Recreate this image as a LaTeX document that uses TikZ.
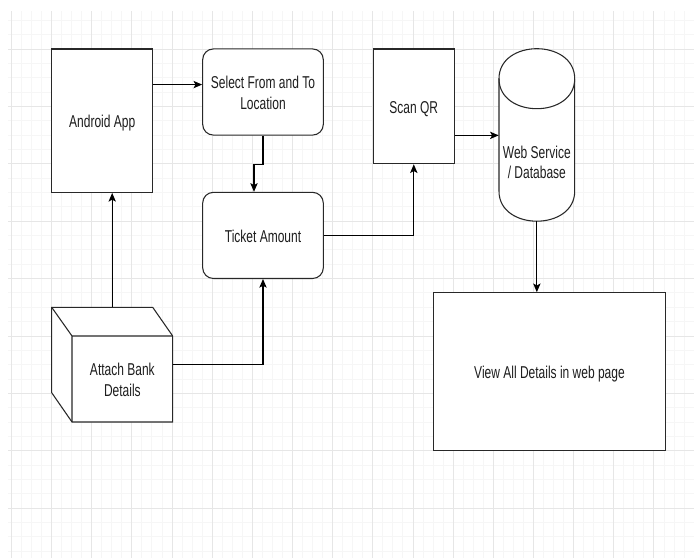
\documentclass[tikz,border=0pt]{standalone}
\usepackage{fontspec}
\setmainfont{Liberation Sans}
\usepackage{graphicx}
\usetikzlibrary{arrows.meta,calc}

\definecolor{gridminor}{RGB}{246,246,246}
\definecolor{gridmajor}{RGB}{230,230,230}
\definecolor{shapeline}{RGB}{40,40,40}
\definecolor{textcol}{RGB}{30,30,30}

\newcommand{\tallbox}[1]{\raisebox{0pt}[\dimexpr\height+4.5pt\relax][\depth]{\scalebox{1}[1.43]{\begin{tabular}{@{}c@{}}#1\end{tabular}}}}

\tikzset{
  boxtext/.style={inner sep=0pt, text=textcol, font=\fontsize{9}{10.8}\selectfont},
  box/.style={boxtext, draw=shapeline, fill=white, line width=0.8pt},
  roundbox/.style={box, rounded corners=8pt},
  plainshape/.style={draw=shapeline, fill=white, line width=0.8pt},
  conn/.style={draw=black, line width=0.8pt, -{Stealth[length=6.5pt,width=5.5pt,inset=1.5pt]}}
}

\begin{document}
\begin{tikzpicture}[x=0.75pt,y=0.75pt,yscale=-1,xscale=1]
        \useasboundingbox (0,0) rectangle (694,558);

        %Grid
        \foreach \i in {0,...,68} \draw[gridminor, line width=0.75pt] ({11.4+10.04*\i},11) -- ({11.4+10.04*\i},558);
        \foreach \j in {-2,...,35} \draw[gridminor, line width=0.75pt] (8,{49+14.35*\j}) -- (694,{49+14.35*\j});
        \foreach \i in {0,...,17} \draw[gridmajor, line width=0.75pt] ({11.4+40.16*\i},11) -- ({11.4+40.16*\i},558);
        \foreach \j in {0,...,8} \draw[gridmajor, line width=0.75pt] (8,{49+57.4*\j}) -- (694,{49+57.4*\j});

        %Shape: Rectangle
        \node[box, minimum width=75.4pt, minimum height=107.6pt] (android) at (102.2,120.7) {\tallbox{Android App}};
        %Shape: Rounded Rectangle
        \node[roundbox, minimum width=90.45pt, minimum height=64.6pt] (select) at (263,92) {\tallbox{Select From and To\\Location}};
        %Shape: Rounded Rectangle
        \node[roundbox, minimum width=90.45pt, minimum height=64.6pt] (ticket) at (263,235.4) {\tallbox{Ticket Amount}};
        %Shape: Rectangle
        \node[box, minimum width=60.75pt, minimum height=86.1pt] (scan) at (413.8,106.4) {\tallbox{Scan QR}};
        %Shape: Rectangle
        \node[box, minimum width=173.7pt, minimum height=118.5pt] (view) at (549.5,371.7) {\tallbox{View All Details in web page}};

        %Shape: Can
        \draw[plainshape] (499,78.7) .. controls (499,38.7) and (574.7,38.7) .. (574.7,78.7) -- (574.7,191.2) .. controls (574.7,231.2) and (499,231.2) .. (499,191.2) -- cycle ;
        \draw[plainshape, fill=none] (499,78.7) .. controls (499,118.7) and (574.7,118.7) .. (574.7,78.7) ;
        \node[inner sep=0pt, minimum width=56.8pt, minimum height=129.4pt] (db) at (536.85,134.95) {};
        \node[boxtext] (dbtext) at (536.85,161.5) {\tallbox{Web Service\\/ Database}};

        %Shape: Cube
        \draw[plainshape] (51.7,307.3) -- (152.7,307.3) -- (172.7,336) -- (172.7,422) -- (72,422) -- (51.7,392.7) -- cycle ;
        \draw[plainshape, fill=none] (51.7,307.3) -- (72,336) -- (172.7,336) (72,336) -- (72,422) ;
        \node[inner sep=0pt, minimum width=90.75pt, minimum height=86pt] (bank) at (112.2,364.65) {};
        \node[boxtext] (banktext) at (122.35,379) {\tallbox{Attach Bank\\Details}};

        %Connectors
        \coordinate (appout) at ($(android.north east)!0.25!(android.south east)$);
        \draw[conn] (appout) -- (appout -| select.west) ;
        \draw[conn] (select.south) -- ++(0,29) -| ($(ticket.north)+(-9,0)$) ;
        \draw[conn] (ticket.east) -| (scan.south) ;
        \coordinate (scanout) at ($(scan.north east)!0.75!(scan.south east)$);
        \draw[conn] (scanout) -- (scanout -| db.west) ;
        \draw[conn] (db.south) -- (db.south |- view.north) ;
        \draw[conn] (bank.north) -- (bank.north |- android.south) ;
        \draw[conn] (bank.east) -| (ticket.south) ;
\end{tikzpicture}
\end{document}
